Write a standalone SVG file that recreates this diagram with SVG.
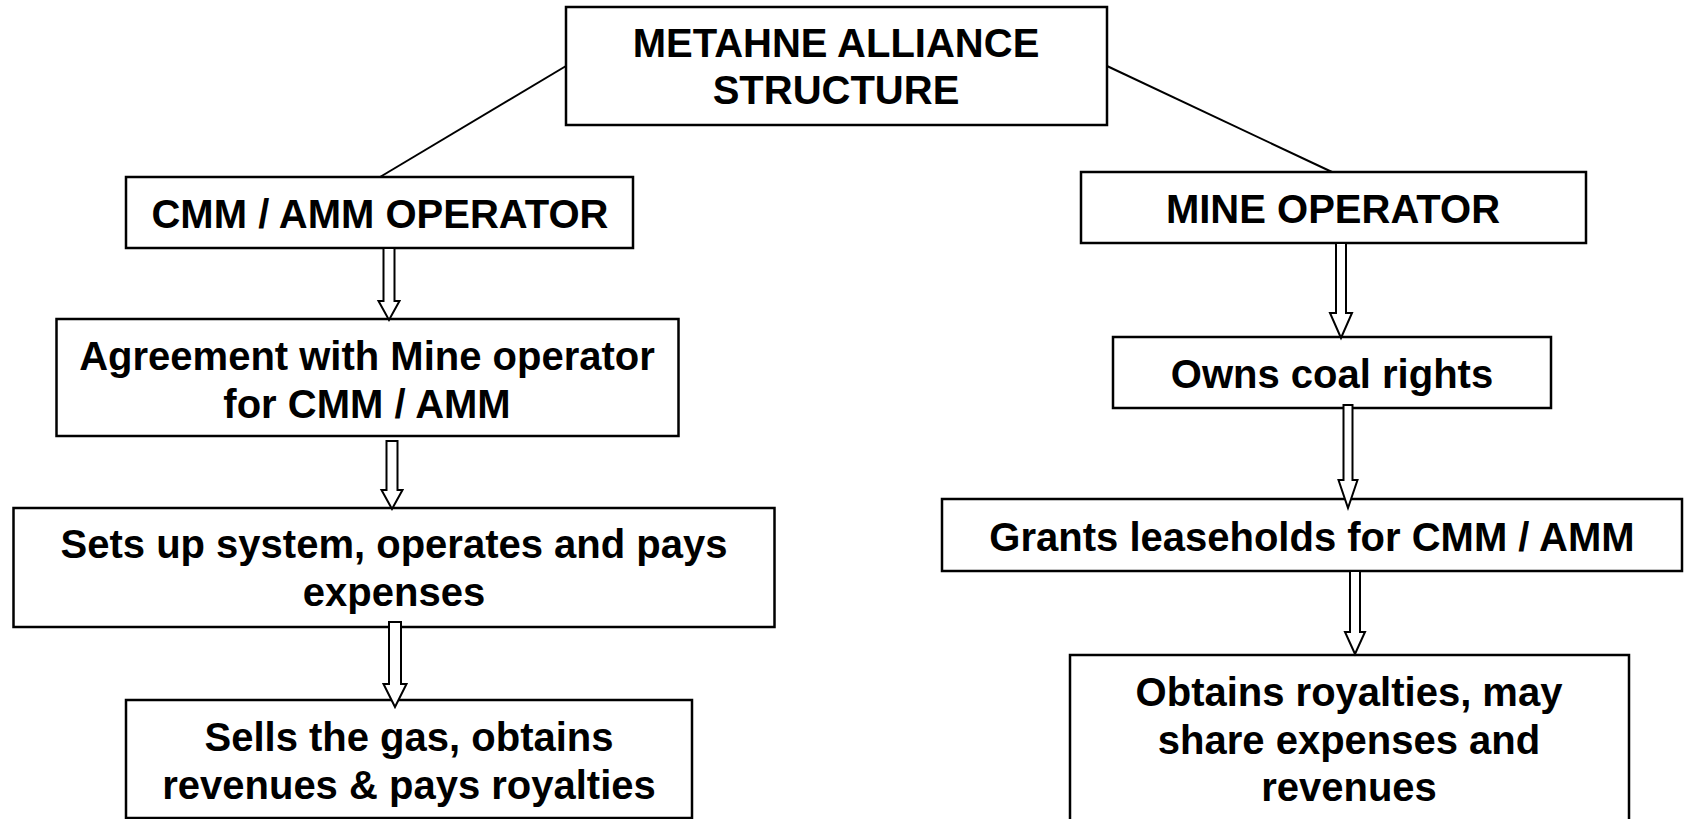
<svg xmlns="http://www.w3.org/2000/svg" width="1684" height="819" viewBox="0 0 1684 819">
<style>
.box{fill:#fff;stroke:#000;stroke-width:2.5}
.t{font-family:"Liberation Sans",Arial,Helvetica,sans-serif;font-weight:bold;font-size:40px;fill:#000;text-anchor:middle}
.ln{stroke:#000;stroke-width:2;fill:none}
.ar{fill:#fff;stroke:#000;stroke-width:2;stroke-linejoin:miter}
</style>
<rect width="1684" height="819" fill="#fff"/>
<g id="connectors-lines">
<line class="ln" x1="566" y1="66" x2="380" y2="177"/>
<line class="ln" x1="1107" y1="66" x2="1332" y2="172"/>
</g>
<g id="n-title"><rect class="box" x="566" y="7" width="541" height="118"/>
<text class="t" x="836" y="57">METAHNE ALLIANCE</text><text class="t" x="836" y="104">STRUCTURE</text></g>
<g id="n-cmm"><rect class="box" x="126" y="177" width="507" height="71"/>
<text class="t" x="380" y="228">CMM / AMM OPERATOR</text></g>
<g id="n-agree"><rect class="box" x="56.5" y="319" width="622" height="117"/>
<text class="t" x="367" y="370">Agreement with Mine operator</text><text class="t" x="367" y="418">for CMM / AMM</text></g>
<g id="n-sets"><rect class="box" x="13.5" y="508" width="761" height="119"/>
<text class="t" x="394" y="558">Sets up system, operates and pays</text><text class="t" x="394" y="606">expenses</text></g>
<g id="n-sells"><rect class="box" x="126" y="700" width="566" height="118"/>
<text class="t" x="409" y="751">Sells the gas, obtains</text><text class="t" x="409" y="799">revenues &amp; pays royalties</text></g>
<g id="n-mine"><rect class="box" x="1081" y="172" width="505" height="71"/>
<text class="t" x="1333" y="223">MINE OPERATOR</text></g>
<g id="n-owns"><rect class="box" x="1113" y="337" width="438" height="71"/>
<text class="t" x="1332" y="388">Owns coal rights</text></g>
<g id="n-grants"><rect class="box" x="942" y="499" width="740" height="72"/>
<text class="t" x="1312" y="551">Grants leaseholds for CMM / AMM</text></g>
<g id="n-obtains"><rect class="box" x="1070" y="655" width="559" height="180"/>
<text class="t" x="1349" y="706">Obtains royalties, may</text><text class="t" x="1349" y="754">share expenses and</text><text class="t" x="1349" y="801">revenues</text></g>
<g id="connectors-arrows">
<path class="ar" d="M383.5 248 H394.5 V301 H399.5 L389 320 L378.5 301 H383.5 Z"/>
<path class="ar" d="M386.5 441 H397.5 V490 H402.5 L392 509 L381.5 490 H386.5 Z"/>
<path class="ar" d="M389 622 H401 V684 H406.5 L395 707 L383.5 684 H389 Z"/>
<path class="ar" d="M1336 243 H1346 V313 H1352 L1341 338 L1330 313 H1336 Z"/>
<path class="ar" d="M1343.5 405 H1352.5 V480 H1357.5 L1348 508 L1338.5 480 H1343.5 Z"/>
<path class="ar" d="M1350 571 H1360 V632 H1365 L1355 654 L1345 632 H1350 Z"/>
</g>
</svg>
